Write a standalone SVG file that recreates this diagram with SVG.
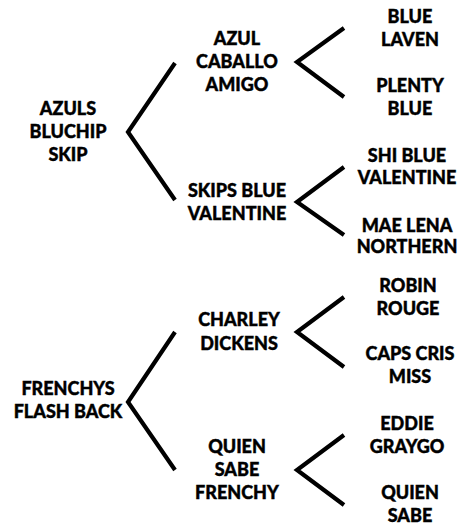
<svg xmlns="http://www.w3.org/2000/svg" width="459" height="526" viewBox="0 0 459 526">
<style>
text{font-family:Lato,"Open Sans","Liberation Sans",sans-serif;font-weight:900;font-size:18px;fill:#000;stroke:#000;stroke-width:0.4;text-anchor:middle}
.br{fill:none;stroke:#000;stroke-width:4.2;stroke-linejoin:miter;stroke-linecap:butt}
</style>
<rect width="459" height="526" fill="#fff"/>
<g id="connectors">
<path class="br" d="M175,63 L128,132 L175,200"/>
<path class="br" d="M344,28 L297,62 L344,97"/>
<path class="br" d="M344,167 L297,202 L344,235"/>
<path class="br" d="M175,332 L128,402 L175,470"/>
<path class="br" d="M344,297 L297,332 L344,367"/>
<path class="br" d="M344,435 L297,470 L344,505"/>
</g>
<g id="n-azuls"><text x="68" y="115">AZULS</text><text x="68" y="138">BLUCHIP</text><text x="68" y="161">SKIP</text></g>
<g id="n-azul-caballo"><text x="237" y="45">AZUL</text><text x="237" y="68">CABALLO</text><text x="237" y="91">AMIGO</text></g>
<g id="n-blue-laven"><text x="410" y="23">BLUE</text><text x="410" y="46">LAVEN</text></g>
<g id="n-plenty-blue"><text x="410" y="92">PLENTY</text><text x="410" y="115">BLUE</text></g>
<g id="n-skips-blue"><text x="237" y="197">SKIPS BLUE</text><text x="237" y="220">VALENTINE</text></g>
<g id="n-shi-blue"><text x="407" y="162">SHI BLUE</text><text x="407" y="184">VALENTINE</text></g>
<g id="n-mae-lena"><text x="407" y="232">MAE LENA</text><text x="407" y="253">NORTHERN</text></g>
<g id="n-frenchys"><text x="68" y="395">FRENCHYS</text><text x="68" y="418">FLASH BACK</text></g>
<g id="n-charley"><text x="239" y="326">CHARLEY</text><text x="239" y="350">DICKENS</text></g>
<g id="n-robin"><text x="408" y="292">ROBIN</text><text x="408" y="315">ROUGE</text></g>
<g id="n-caps"><text x="410" y="360">CAPS CRIS</text><text x="410" y="383">MISS</text></g>
<g id="n-quien-frenchy"><text x="237" y="453">QUIEN</text><text x="237" y="476">SABE</text><text x="237" y="499">FRENCHY</text></g>
<g id="n-eddie"><text x="407" y="430">EDDIE</text><text x="407" y="453">GRAYGO</text></g>
<g id="n-quien-sabe"><text x="410" y="499">QUIEN</text><text x="410" y="522">SABE</text></g>
</svg>
